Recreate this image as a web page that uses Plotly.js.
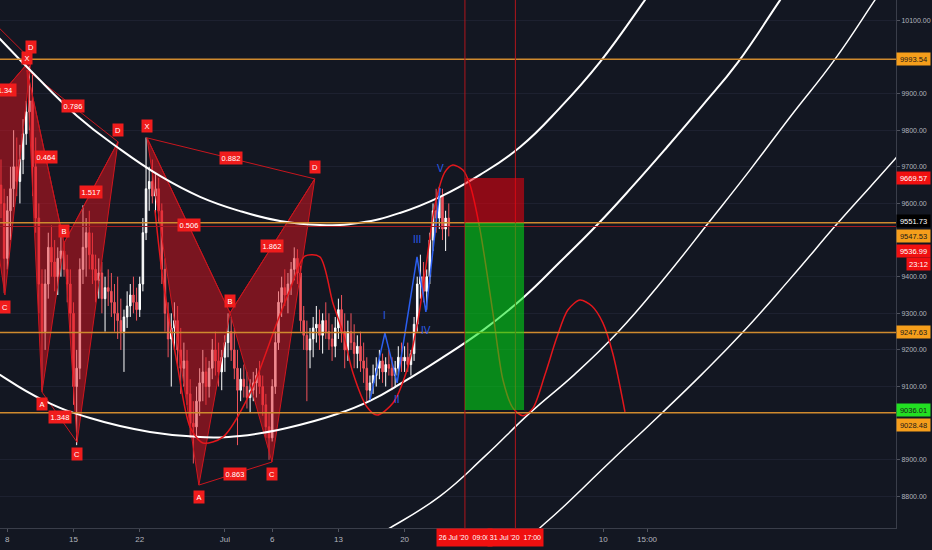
<!DOCTYPE html>
<html><head><meta charset="utf-8">
<script src="https://cdn.plot.ly/plotly-3.0.1.min.js"></script>
<style>html,body{margin:0;padding:0;background:#131722;overflow:hidden}#chart{width:932px;height:550px}</style>
</head><body><div id="chart"></div>
<script>
// ---------------- DATA ----------------
// 8-hour candles starting 2020-06-07 08:00
const candleStart = '2020-06-07T08:00:00Z';
const candleHours = 8;
const open = [
 9650,9600,
 9450,9580,9640, 9700,9660,9720, 9790,9850,9880, 9700,9560,9380, 9250,9380,9480, 9440,9400,9450,
 9470,9420,9380, 9300,9100,9150, 9420,9480,9520, 9460,9420,9390, 9410,9340,9370, 9360,9330,9300,
 9280,9250,9290, 9320,9350,9330, 9310,9380,9520, 9640,9660,9620, 9640,9580,9420, 9300,9230,9260,
 9280,9200,9150, 9170,9080,9000, 8990,9060,9110, 9140,9100,9150, 9200,9170,9140,
 9180,9220,9250, 9200,9150,9090, 9120,9100,9070, 9090,9110,9130, 9100,9050,8990, 8960,9100,9220,
 9330,9370,9350, 9380,9420,9450, 9410,9280,9240, 9200,9230,9260, 9270,9240,9280, 9250,9230,9210,
 9260,9310,9250, 9200,9250,9220, 9190,9210,9170, 9150,9090,9110, 9130,9150,9170, 9140,9160,9150,
 9130,9150,9180, 9170,9180,9160, 9190,9270,9380, 9400,9360,9400, 9500,9580,9560, 9620,9530,9560];
const high = [
 9720,9640,
 9620,9700,9800, 9780,9760,9830, 9880,9975,9960, 9780,9600,9420, 9420,9520,9540, 9500,9480,9510,
 9495,9460,9420, 9330,9200,9450, 9595,9560,9580, 9520,9460,9450, 9440,9400,9420, 9410,9380,9400,
 9340,9310,9360, 9380,9400,9370, 9400,9560,9780, 9700,9720,9680, 9670,9600,9450, 9330,9300,9330,
 9320,9260,9220, 9200,9120,9060, 9100,9150,9200, 9180,9170,9230, 9250,9220,9200,
 9240,9300,9290, 9260,9200,9150, 9160,9140,9120, 9140,9150,9170, 9130,9080,9030, 9120,9250,9360,
 9400,9420,9410, 9440,9480,9475, 9430,9320,9280, 9260,9290,9320, 9310,9300,9330, 9300,9270,9290,
 9340,9350,9300, 9280,9300,9270, 9240,9250,9220, 9180,9130,9160, 9180,9200,9190, 9180,9200,9180,
 9170,9210,9220, 9210,9220,9200, 9290,9400,9460, 9440,9420,9520, 9600,9640,9645, 9640,9580,9600];
const low = [
 9560,9355,
 9420,9500,9590, 9620,9600,9680, 9760,9800,9620, 9520,9300,9090, 9200,9340,9400, 9360,9350,9400,
 9400,9330,9250, 9050,8940,9120, 9380,9400,9420, 9380,9330,9340, 9300,9250,9320, 9290,9250,9230,
 9200,9140,9260, 9290,9300,9280, 9290,9360,9500, 9580,9600,9570, 9550,9380,9250, 9180,9100,9200,
 9150,9080,9100, 9050,8960,8890, 8960,9020,9060, 9050,9070,9120, 9130,9100,9090,
 9140,9180,9170, 9120,8940,9060, 9070,9040,9030, 9060,9070,9080, 9020,8960,8900, 8950,9080,9200,
 9290,9320,9300, 9350,9390,9380, 9250,9200,9060, 9150,9180,9220, 9200,9190,9230, 9200,9170,9180,
 9230,9220,9150, 9170,9200,9150, 9150,9140,9110, 9060,9065,9080, 9100,9120,9110, 9100,9130,9090,
 9100,9130,9140, 9140,9140,9130, 9170,9250,9340, 9330,9310,9380, 9470,9520,9530, 9500,9470,9510];
const close = [
 9600,9450,
 9580,9640,9700, 9660,9720,9790, 9850,9880,9700, 9560,9380,9250, 9380,9480,9440, 9400,9450,9470,
 9420,9380,9300, 9100,9150,9420, 9480,9520,9460, 9420,9390,9410, 9340,9370,9360, 9330,9300,9280,
 9250,9290,9320, 9350,9330,9310, 9380,9520,9640, 9660,9620,9640, 9580,9420,9300, 9230,9260,9280,
 9200,9150,9170, 9080,9000,8990, 9060,9110,9140, 9100,9150,9200, 9170,9140,9180,
 9220,9250,9200, 9150,9090,9120, 9100,9070,9090, 9110,9130,9100, 9050,8990,8960, 9100,9220,9330,
 9370,9350,9380, 9420,9450,9410, 9280,9240,9200, 9230,9260,9270, 9240,9280,9250, 9230,9210,9260,
 9310,9250,9200, 9250,9220,9190, 9210,9170,9150, 9090,9110,9130, 9150,9170,9140, 9160,9150,9130,
 9150,9180,9170, 9180,9160,9190, 9270,9380,9400, 9360,9400,9500, 9580,9560,9620, 9530,9560,9537];

// Horizontal levels (right-axis labels)
const levelOrange = [9993.54, 9547.53, 9247.63, 9028.48];
const levelStop = 9669.57;
const levelEntryMark = 9551.73;
const levelLast = 9536.99;
const levelTarget = 9036.01;
const countdownText = '23:12';

// Vertical time markers
const markerTimes = ['2020-07-26 09:00', '2020-07-31 17:00'];
const markerLabels = ["26 Jul '20\u00a0\u00a009:00", "31 Jul '20\u00a0\u00a017:00"];
const boxEnd = '2020-08-01 15:00';

// Axis ticks
const xTickVals = ['2020-06-08','2020-06-15','2020-06-22','2020-07-01','2020-07-06','2020-07-13','2020-07-20','2020-08-10','2020-08-14 15:00'];
const xTickText = ['8','15','22','Jul','6','13','20','10','15:00'];
const yTickVals = [8800,8900,9100,9200,9300,9400,9600,9700,9800,9900,10100];

// Harmonic patterns: X, A, B, C, D
const pat0Time = ['2020-06-03 00:00', null, '2020-06-05 00:00', '2020-06-07 18:00', '2020-06-10 12:00'];
const pat0Price = [10185, null, 9828, 9350, 9993];
const pat0Ratios = [null, null, '1.34', null];           // XB, AC, BD, XD
const pat0Letters = [null, null, null, 'C', 'D'];
const pat1Time = ['2020-06-10 02:00', '2020-06-11 16:00', '2020-06-14 00:00', '2020-06-15 09:00', '2020-06-19 17:00'];
const pat1Price = [9964, 9085, 9492, 8948, 9768];
const pat1Ratios = ['0.464', '1.348', '1.517', '0.786'];
const pat1Letters = ['X', 'A', 'B', 'C', 'D'];
const pat2Time = ['2020-06-22 18:30', '2020-06-28 06:00', '2020-07-01 13:00', '2020-07-05 23:30', '2020-07-10 12:00'];
const pat2Price = [9779, 8831, 9301, 8894, 9667];
const pat2Ratios = ['0.506', '0.863', '1.862', '0.882'];
const pat2Letters = ['X', 'A', 'B', 'C', 'D'];

// Elliott wave (blue)
const waveTime = ['2020-07-16 08:00','2020-07-17 22:00','2020-07-19 05:00','2020-07-21 07:30','2020-07-22 06:00','2020-07-23 18:00'];
const wavePrice = [9063, 9246, 9110, 9454, 9304, 9642];
const waveLabels = ['', 'I', 'II', 'III', 'IV', 'V'];

// White arcs
const arc1Time = ['2020-06-05 03:00','2020-06-07 05:30','2020-06-10 17:00','2020-06-15 09:00','2020-06-19 14:30','2020-06-24 03:30','2020-06-28 09:00','2020-07-02 14:30','2020-07-06 20:00','2020-07-11 01:00','2020-07-15 07:00','2020-07-19 12:00','2020-07-23 18:00','2020-07-27 23:00','2020-08-01 05:00','2020-08-05 10:00','2020-08-09 15:30','2020-08-14 09:30','2020-08-16 12:00'];
const arc1Price = [10106,10049,9956,9839,9754,9675,9618,9579,9552,9541,9547,9574,9618,9678,9754,9861,9986,10155,10232];
const arc2Time = ['2020-06-05 03:00','2020-06-07 05:30','2020-06-11 18:30','2020-06-16 18:00','2020-06-23 02:00','2020-06-28 09:00','2020-07-02 14:30','2020-07-07 13:30','2020-07-12 20:30','2020-07-16 08:00','2020-07-19 20:00','2020-07-23 18:00','2020-07-28 07:00','2020-08-01 12:00','2020-08-05 10:00','2020-08-09 08:00','2020-08-13 01:00','2020-08-16 18:00','2020-08-20 13:00','2020-08-24 06:00','2020-08-28 16:30','2020-08-30 07:00'];
const arc2Price = [9170,9132,9063,9014,8976,8962,8965,8987,9025,9061,9112,9175,9254,9342,9440,9541,9645,9754,9869,9986,10155,10215];
const arc3Time = ['2020-07-15 07:00','2020-07-18 11:00','2020-07-23 18:00','2020-07-28 12:00','2020-08-02 06:00','2020-08-07 00:00','2020-08-11 11:00','2020-08-16 07:30','2020-08-21 06:30','2020-08-25 12:00','2020-08-29 18:00','2020-09-03 12:00','2020-09-07 17:00','2020-09-09 07:00'];
const arc3Price = [8667,8714,8801,8910,9028,9134,9246,9391,9552,9691,9836,9994,10155,10215];
const arc4Time = ['2020-08-01 10:00','2020-08-03 07:00','2020-08-05 10:00','2020-08-10 17:00','2020-08-16 05:00','2020-08-20 10:30','2020-08-24 16:00','2020-08-29 18:00','2020-09-03 19:30','2020-09-07 05:00','2020-09-09 22:30','2020-09-12 12:00'];
const arc4Price = [8667,8714,8763,8894,9028,9134,9246,9394,9547,9645,9724,9800];

// Red cycle curve
const cycleTime = ['2020-06-23 14:30','2020-06-24 11:00','2020-06-25 22:30','2020-06-27 07:30','2020-06-28 16:30','2020-06-30 19:00','2020-07-03 16:00','2020-07-06 12:00','2020-07-07 21:00','2020-07-09 11:00','2020-07-11 01:00','2020-07-12 10:00','2020-07-13 12:00','2020-07-14 13:00','2020-07-16 00:30','2020-07-17 02:00','2020-07-18 18:30','2020-07-20 06:00','2020-07-21 10:00','2020-07-22 08:30','2020-07-23 05:00','2020-07-24 06:30','2020-07-25 02:30','2020-07-26 04:00','2020-07-26 22:00','2020-07-27 23:00','2020-07-29 08:00','2020-07-30 09:30','2020-07-31 11:00','2020-08-01 12:00','2020-08-02 13:30','2020-08-03 20:00','2020-08-05 02:30','2020-08-06 06:00','2020-08-07 13:00','2020-08-08 19:00','2020-08-09 23:00','2020-08-11 00:30','2020-08-12 07:00'];
const cyclePrice = [9582,9391,9164,8990,8946,8962,9082,9274,9364,9456,9454,9328,9246,9137,9044,9022,9055,9145,9282,9446,9596,9686,9705,9691,9650,9530,9301,9118,9041,9020,9041,9132,9235,9309,9336,9320,9274,9189,9031];

// ---------------- BUILD ----------------
const FONT = "'Liberation Sans', Arial, sans-serif";
const RED = '#f01c1c';
const t0 = Date.parse(candleStart);
const fmt = ms => { const s = new Date(ms).toISOString(); return s.slice(0,10) + ' ' + s.slice(11,16); };
const candleTime = close.map((_, i) => fmt(t0 + i * candleHours * 3600e3));
const toMs = s => Date.parse(s.replace(' ', 'T') + ':00Z');

const traces = [];
const annotations = [];

traces.push({
  type: 'candlestick', x: candleTime, open: open, high: high, low: low, close: close,
  increasing: {line: {color: '#ffffff', width: 1}, fillcolor: '#ffffff'},
  decreasing: {line: {color: '#f0525a', width: 1}, fillcolor: '#f0525a'},
  whiskerwidth: 0, hoverinfo: 'skip', showlegend: false
});

function label(x, y, text, yshift, w) {
  annotations.push({x: x, y: y, xref: 'x', yref: 'y', text: text, showarrow: false, yshift: yshift,
    bgcolor: RED, font: {color: '#ffffff', size: 7.5, family: FONT}, width: w, height: 10, borderpad: 1});
}

function drawPattern(T, P, ratios, letters) {
  const tri = (ids) => ({type: 'scatter', mode: 'lines', x: ids.map(i => T[i]).concat([T[ids[0]]]),
    y: ids.map(i => P[i]).concat([P[ids[0]]]), fill: 'toself', fillcolor: 'rgba(225,20,30,0.5)',
    line: {color: '#d0161e', width: 1}, hoverinfo: 'skip', showlegend: false});
  if (T[1] !== null) traces.push(tri([0, 1, 2]));
  traces.push(tri([2, 3, 4]));
  const pairs = [[0, 2], [1, 3], [2, 4], [0, 4]];
  pairs.forEach((pr, k) => {
    const i = pr[0], j = pr[1];
    if (T[i] === null || T[j] === null) return;
    traces.push({type: 'scatter', mode: 'lines', x: [T[i], T[j]], y: [P[i], P[j]],
      line: {color: '#c8161e', width: 1}, hoverinfo: 'skip', showlegend: false});
    if (ratios[k]) {
      label(fmt((toMs(T[i]) + toMs(T[j])) / 2), (P[i] + P[j]) / 2, ratios[k], 0, 20);
    }
  });
  const shifts = [12, -12, 12, -12, 12];
  letters.forEach((L, i) => { if (L && T[i] !== null) label(T[i], P[i], L, shifts[i], 8); });
}
drawPattern(pat0Time, pat0Price, pat0Ratios, pat0Letters);
drawPattern(pat1Time, pat1Price, pat1Ratios, pat1Letters);
drawPattern(pat2Time, pat2Price, pat2Ratios, pat2Letters);

// arcs
[[arc1Time, arc1Price, 2], [arc2Time, arc2Price, 2], [arc3Time, arc3Price, 1.5], [arc4Time, arc4Price, 1.5]].forEach(a => {
  traces.push({type: 'scatter', mode: 'lines', x: a[0], y: a[1], line: {color: '#ffffff', width: a[2], shape: 'spline', smoothing: 1.3},
    hoverinfo: 'skip', showlegend: false});
});
// red cycle
traces.push({type: 'scatter', mode: 'lines', x: cycleTime, y: cyclePrice, line: {color: '#e3171c', width: 1.5, shape: 'spline', smoothing: 0.8},
  hoverinfo: 'skip', showlegend: false});
// elliott
traces.push({type: 'scatter', mode: 'lines', x: waveTime, y: wavePrice, line: {color: '#2b5ff0', width: 1.5},
  hoverinfo: 'skip', showlegend: false});
const waveShift = [0, 18, -17, 17, -19, 20];
waveLabels.forEach((L, i) => { if (L) annotations.push({x: waveTime[i], y: wavePrice[i], text: L, showarrow: false, yshift: waveShift[i],
  font: {color: '#2b5ff0', size: 10, family: FONT}}); });

// shapes
const shapes = [];
levelOrange.forEach(v => shapes.push({type: 'line', xref: 'paper', x0: 0, x1: 1, y0: v, y1: v, line: {color: '#cf8a2e', width: 1.5}, layer: 'above'}));
shapes.push({type: 'line', xref: 'paper', x0: 0, x1: 1, y0: levelLast, y1: levelLast, line: {color: '#a11a22', width: 1}, layer: 'above'});
markerTimes.forEach(t => shapes.push({type: 'line', x0: t, x1: t, yref: 'paper', y0: 0, y1: 1, line: {color: '#b0161c', width: 1}, layer: 'above'}));
shapes.push({type: 'rect', x0: markerTimes[0], x1: boxEnd, y0: levelOrange[1], y1: levelStop, fillcolor: 'rgba(242,0,12,0.55)', line: {width: 0}, layer: 'above'});
shapes.push({type: 'rect', x0: markerTimes[0], x1: boxEnd, y0: levelTarget, y1: levelOrange[1], fillcolor: 'rgba(0,230,20,0.55)', line: {width: 0}, layer: 'above'});

// right-axis price labels
const rightLabels = [
  {v: levelOrange[0], bg: '#f59e1b', fg: '#1a1a1a', s: 0},
  {v: levelStop, bg: '#f01010', fg: '#ffffff', s: 0},
  {v: levelEntryMark, bg: '#000000', fg: '#ffffff', s: 0},
  {v: levelOrange[1], bg: '#f59e1b', fg: '#1a1a1a', s: -13},
  {v: levelLast, bg: '#f01010', fg: '#ffffff', s: -24},
  {v: levelOrange[2], bg: '#f59e1b', fg: '#1a1a1a', s: 0},
  {v: levelTarget, bg: '#22e022', fg: '#1a1a1a', s: 0},
  {v: levelOrange[3], bg: '#f59e1b', fg: '#1a1a1a', s: -12}
];
rightLabels.forEach(r => annotations.push({xref: 'paper', x: 1, xanchor: 'left', yref: 'y', y: r.v, yshift: r.s,
  text: r.v.toFixed(2), showarrow: false, bgcolor: r.bg, width: 31, height: 10, borderpad: 1,
  font: {color: r.fg, size: 7.5, family: FONT}}));
annotations.push({xref: 'paper', x: 1, xanchor: 'left', xshift: 10, yref: 'y', y: levelLast, yshift: -37,
  text: countdownText, showarrow: false, bgcolor: '#f01010', width: 21, height: 10, borderpad: 1,
  font: {color: '#ffffff', size: 7.5, family: FONT}});
// bottom time labels
markerTimes.forEach((t, i) => annotations.push({x: t, xref: 'x', yref: 'paper', y: 0, yanchor: 'top', yshift: 0,
  text: markerLabels[i], showarrow: false, bgcolor: '#f01010', width: 53, height: 15, borderpad: 1,
  font: {color: '#ffffff', size: 7, family: FONT}}));

const layout = {
  width: 932, height: 550,
  margin: {l: 0, r: 36, t: 0, b: 22},
  paper_bgcolor: '#131722', plot_bgcolor: '#131722',
  showlegend: false,
  xaxis: {type: 'date', range: ['2020-06-07 05:29', '2020-09-09 22:38'], rangeslider: {visible: false},
    showgrid: false, zeroline: false, tickmode: 'array', tickvals: xTickVals, ticktext: xTickText,
    ticks: 'outside', ticklen: 3, tickcolor: '#50535e', tickfont: {color: '#b2b5be', size: 8, family: FONT},
    showline: true, linecolor: '#3a3e4a', linewidth: 1, fixedrange: true},
  yaxis: {side: 'right', range: [8713.8, 10155.4], tickmode: 'array', tickvals: yTickVals, tickformat: '.2f',
    ticks: 'outside', ticklen: 3, tickcolor: '#50535e', tickfont: {color: '#b2b5be', size: 7, family: FONT},
    showgrid: true, gridcolor: '#1d2130', gridwidth: 1, zeroline: false, showline: true, linecolor: '#3a3e4a', linewidth: 1, fixedrange: true},
  shapes: shapes,
  annotations: annotations
};
Plotly.newPlot('chart', traces, layout, {displayModeBar: false, staticPlot: true});
</script></body></html>
